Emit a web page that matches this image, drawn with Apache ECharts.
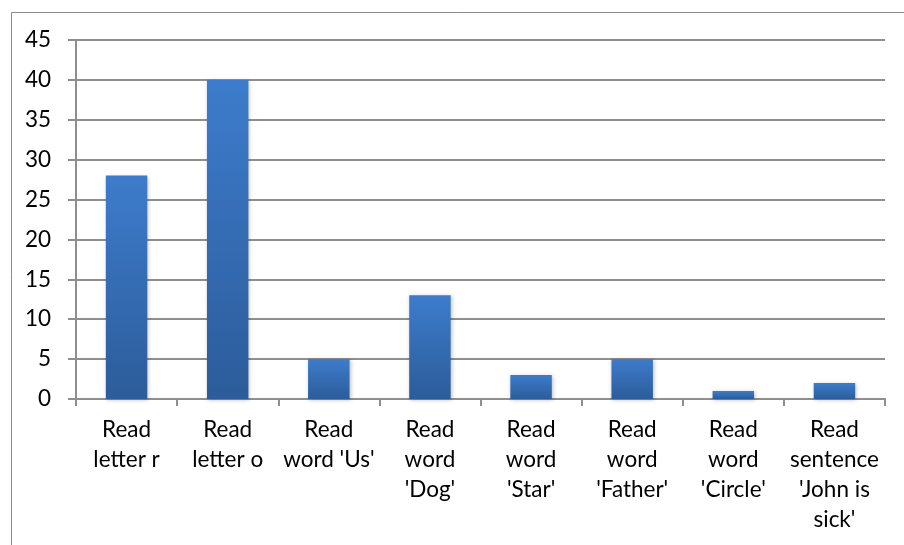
<!DOCTYPE html>
<html>
<head>
<meta charset="utf-8">
<script src="https://cdn.jsdelivr.net/npm/echarts@6/dist/echarts.min.js"></script>
<style>
  html, body { margin: 0; padding: 0; background: #fff; }
  #chart { width: 904px; height: 545px; }
</style>
</head>
<body>
<div id="chart"></div>
<script>
// Reading tasks and how many children completed each
const categories = [
  "Read\nletter r",
  "Read\nletter o",
  "Read\nword 'Us'",
  "Read\nword\n'Dog'",
  "Read\nword\n'Star'",
  "Read\nword\n'Father'",
  "Read\nword\n'Circle'",
  "Read\nsentence\n'John is\nsick'"
];
const counts = [28, 40, 5, 13, 3, 5, 1, 2];
const yTicks = { min: 0, max: 45, step: 5 };

const FONT = "Lato, 'Open Sans', sans-serif";
const GRID_GRAY = '#8f8f8f';

const chart = echarts.init(document.getElementById('chart'), null, { renderer: 'canvas' });
chart.setOption({
  animation: false,
  backgroundColor: '#ffffff',
  graphic: [{
    type: 'rect',
    shape: { x: 11.5, y: 12.5, width: 1200, height: 1200 },
    style: { fill: 'none', stroke: '#8a8a8a', lineWidth: 1 },
    silent: true,
    z: -1
  }],
  grid: { left: 76, right: 19, top: 40, bottom: 146, containLabel: false },
  xAxis: {
    type: 'category',
    data: categories,
    boundaryGap: true,
    axisLine: { show: true, lineStyle: { color: GRID_GRAY, width: 2 } },
    axisTick: { show: true, length: 7, alignWithLabel: false, lineStyle: { color: GRID_GRAY, width: 2 } },
    axisLabel: {
      interval: 0,
      margin: 16,
      color: '#000',
      fontFamily: FONT,
      fontSize: 22.5,
      lineHeight: 30,
      align: 'center'
    }
  },
  yAxis: {
    type: 'value',
    min: yTicks.min,
    max: yTicks.max,
    interval: yTicks.step,
    axisLine: { show: true, lineStyle: { color: GRID_GRAY, width: 2 } },
    axisTick: { show: true, length: 8, lineStyle: { color: GRID_GRAY, width: 2 } },
    splitLine: { show: true, lineStyle: { color: GRID_GRAY, width: 2 } },
    axisLabel: {
      margin: 25,
      color: '#000',
      fontFamily: FONT,
      fontSize: 22.5
    }
  },
  series: [{
    type: 'bar',
    data: counts,
    barWidth: '41%',
    itemStyle: {
      color: new echarts.graphic.LinearGradient(0, 0, 0, 1, [
        { offset: 0, color: '#3d7ccc' },
        { offset: 1, color: '#2c5c9a' }
      ]),
      shadowColor: 'rgba(0,0,0,0.25)',
      shadowBlur: 4,
      shadowOffsetX: 1,
      shadowOffsetY: 1
    }
  }]
});
</script>
</body>
</html>
